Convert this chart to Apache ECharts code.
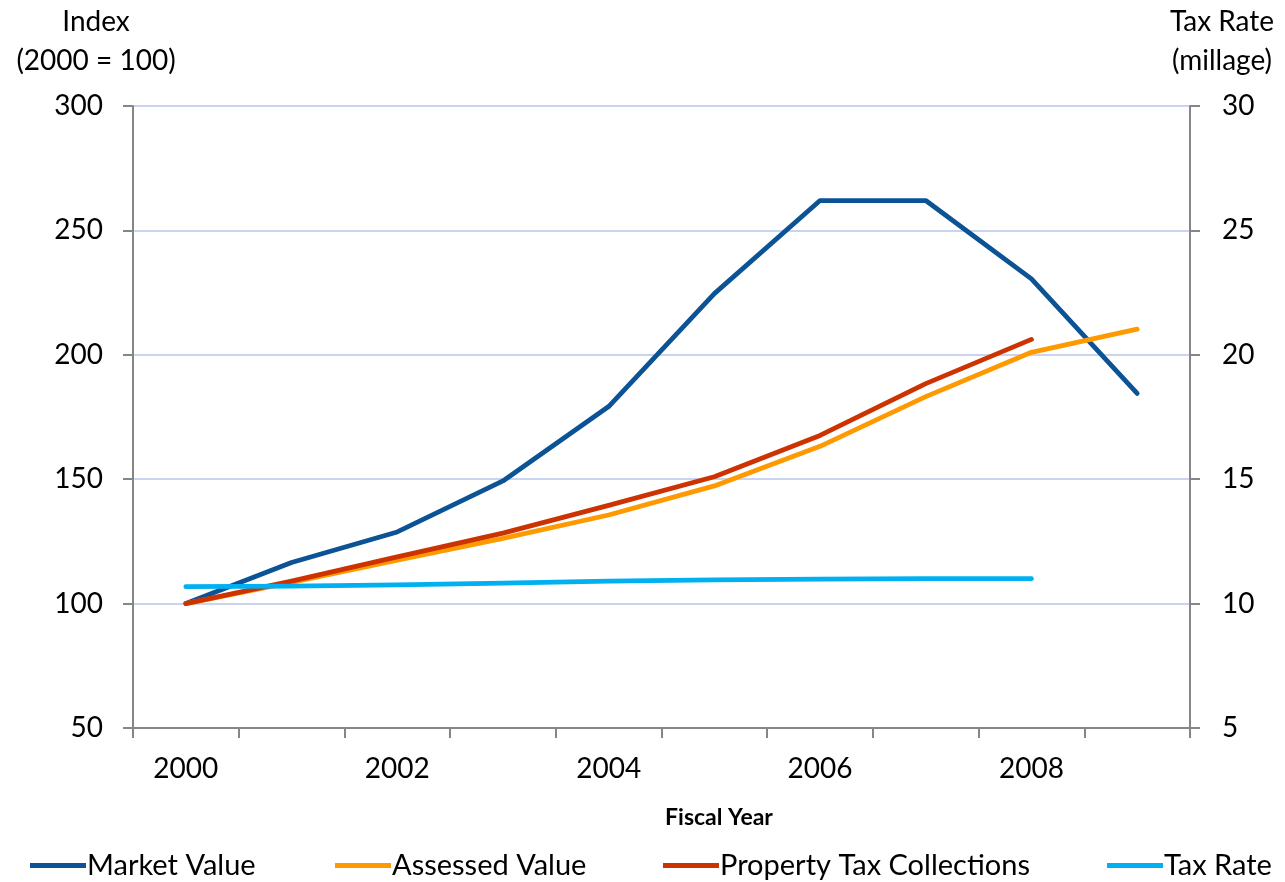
<!DOCTYPE html>
<html>
<head>
<meta charset="utf-8">
<script src="https://cdn.jsdelivr.net/npm/echarts@6/dist/echarts.min.js"></script>
<style>
  html, body { margin: 0; padding: 0; background: #ffffff; }
  #chart { width: 1285px; height: 882px; }
</style>
</head>
<body>
<div id="chart"></div>
<script>
// Fiscal years on the category axis
const years = ['2000', '2001', '2002', '2003', '2004', '2005', '2006', '2007', '2008', '2009'];

// Index series (2000 = 100)
const marketValue = [100, 116.5, 128.8, 149.3, 179.2, 224.6, 262.0, 262.0, 230.5, 184.5];
const assessedValue = [100, 108.5, 117.5, 126.2, 135.6, 147.3, 163.2, 183.2, 201.0, 210.3];
const taxCollections = [100, 109.0, 118.8, 128.3, 139.5, 151.0, 167.6, 188.4, 206.2, null];

// Tax rate in mills (right axis)
const taxRate = [10.68, 10.70, 10.75, 10.82, 10.90, 10.95, 10.98, 11.0, 11.0, null];

// Axis tick settings
const leftTicks = { min: 50, max: 300, interval: 50 };
const rightTicks = { min: 5, max: 30, interval: 5 };

const FONT = 'Lato, "Open Sans", sans-serif';
const AXIS_GRAY = '#868686';
const GRID_BLUE = '#c9d5f0';

const colors = {
  market: '#0b5394',
  assessed: '#ff9900',
  collections: '#cc3300',
  rate: '#00b0f0'
};

function lineSeries(name, data, color, yAxisIndex) {
  return {
    name: name,
    type: 'line',
    data: data,
    yAxisIndex: yAxisIndex,
    showSymbol: false,
    symbol: 'none',
    connectNulls: false,
    animation: false,
    lineStyle: { color: color, width: 4.8, cap: 'round', join: 'round' },
    itemStyle: { color: color }
  };
}

function legendAt(name, left) {
  return {
    data: [name],
    left: left,
    top: 846,
    itemWidth: 56,
    itemHeight: 5,
    icon: 'rect',
    itemGap: 0,
    textStyle: { fontFamily: FONT, fontSize: 29, color: '#000', padding: [0, 0, 0, -4] }
  };
}

const chart = echarts.init(document.getElementById('chart'), null, { renderer: 'canvas' });

chart.setOption({
  backgroundColor: '#ffffff',
  animation: false,
  grid: { left: 133, right: 95, top: 106, bottom: 154, containLabel: false },
  legend: [
    legendAt('Market Value', 25),
    legendAt('Assessed Value', 330),
    legendAt('Property Tax Collections', 658),
    legendAt('Tax Rate', 1102)
  ],
  xAxis: {
    type: 'category',
    data: years,
    boundaryGap: true,
    axisLine: { lineStyle: { color: AXIS_GRAY, width: 2 } },
    axisTick: { show: true, interval: 0, alignWithLabel: false, length: 10, lineStyle: { color: AXIS_GRAY, width: 2 } },
    axisLabel: { interval: 1, margin: 27, fontFamily: FONT, fontSize: 28, color: '#000' },
    splitLine: { show: false }
  },
  yAxis: [
    {
      type: 'value',
      position: 'left',
      min: leftTicks.min, max: leftTicks.max, interval: leftTicks.interval,
      axisLine: { show: true, lineStyle: { color: AXIS_GRAY, width: 2 } },
      axisTick: { show: true, length: 10, lineStyle: { color: AXIS_GRAY, width: 2 } },
      axisLabel: { margin: 30, fontFamily: FONT, fontSize: 28, color: '#000' },
      splitLine: { show: true, lineStyle: { color: GRID_BLUE, width: 2 } }
    },
    {
      type: 'value',
      position: 'right',
      min: rightTicks.min, max: rightTicks.max, interval: rightTicks.interval,
      axisLine: { show: true, lineStyle: { color: AXIS_GRAY, width: 2 } },
      axisTick: { show: true, length: 10, lineStyle: { color: AXIS_GRAY, width: 2 } },
      axisLabel: { margin: 32, fontFamily: FONT, fontSize: 28, color: '#000' },
      splitLine: { show: false }
    }
  ],
  graphic: [
    {
      type: 'text',
      style: { text: 'Index\n(2000 = 100)', x: 96, y: 2, align: 'center', verticalAlign: 'top',
               font: '28px ' + FONT, fill: '#000', lineHeight: 39 }
    },
    {
      type: 'text',
      style: { text: 'Tax Rate\n(millage)', x: 1222, y: 2, align: 'center', verticalAlign: 'top',
               font: '28px ' + FONT, fill: '#000', lineHeight: 39 }
    },
    {
      type: 'text',
      style: { text: 'Fiscal Year', x: 719, y: 818, align: 'center', verticalAlign: 'middle',
               font: 'bold 23px ' + FONT, fill: '#000' }
    }
  ],
  series: [
    lineSeries('Market Value', marketValue, colors.market, 0),
    lineSeries('Assessed Value', assessedValue, colors.assessed, 0),
    lineSeries('Property Tax Collections', taxCollections, colors.collections, 0),
    lineSeries('Tax Rate', taxRate, colors.rate, 1)
  ]
});
</script>
</body>
</html>
